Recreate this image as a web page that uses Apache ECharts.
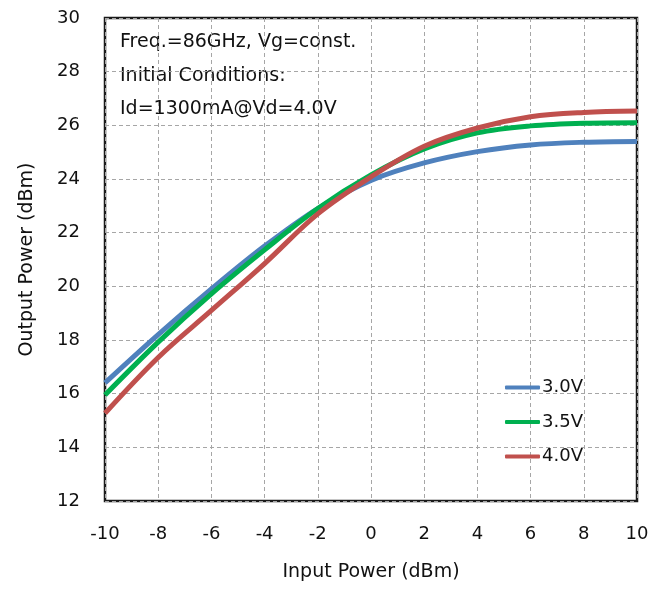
<!DOCTYPE html>
<html>
<head>
<meta charset="utf-8">
<script src="https://cdn.jsdelivr.net/npm/echarts@6/dist/echarts.min.js"></script>
<style>
    html, body { margin: 0; padding: 0; background: #fff; }
    #chart { width: 665px; height: 593px; }
</style>
</head>
<body>
<div id="chart"></div>
<script>
// input power (dBm)
const pin = [-10, -8, -6, -4, -2, 0, 2, 4, 6, 8, 10];
// output power (dBm) per drain voltage
const pout30 = [16.4, 18.2, 19.9, 21.5, 22.9, 23.95, 24.6, 25.02, 25.27, 25.37, 25.4];
const pout35 = [15.95, 17.92, 19.72, 21.36, 22.9, 24.15, 25.12, 25.72, 25.98, 26.08, 26.1];
const pout40 = [15.27, 17.35, 19.1, 20.85, 22.7, 24.08, 25.22, 25.9, 26.32, 26.48, 26.53];
const seriesNames = ['3.0V', '3.5V', '4.0V'];
const noteLines = ['Freq.=86GHz, Vg=const.', 'Initial Conditions:', 'Id=1300mA@Vd=4.0V'];

const colors = ['#4F81BD', '#00B050', '#C0504D'];
const font = 'DejaVu Sans';

const toPairs = (ys) => pin.map((x, i) => [x, ys[i]]);

const chart = echarts.init(document.getElementById('chart'));

const makeSeries = (name, ys, color) => ({
    name: name,
    type: 'line',
    data: toPairs(ys),
    smooth: 0.35,
    showSymbol: false,
    lineStyle: { color: color, width: 5 },
    itemStyle: { color: color },
    z: 3
});

const option = {
    animation: false,
    backgroundColor: '#fff',
    grid: {
        left: 105,
        right: 28,
        top: 18,
        bottom: 92,
        show: true,
        borderColor: '#1a1a1a',
        borderWidth: 2.5
    },
    xAxis: {
        type: 'value',
        min: -10,
        max: 10,
        interval: 2,
        name: 'Input Power (dBm)',
        nameLocation: 'middle',
        nameGap: 62,
        nameTextStyle: { fontFamily: font, fontSize: 19, color: '#111' },
        axisLine: { show: false },
        axisTick: { show: false },
        axisLabel: { fontFamily: font, fontSize: 18, color: '#111', margin: 24 },
        splitLine: { lineStyle: { color: '#a6a6a6', type: [4, 3], width: 1 } }
    },
    yAxis: {
        type: 'value',
        min: 12,
        max: 30,
        interval: 2,
        name: 'Output Power (dBm)',
        nameLocation: 'middle',
        nameGap: 68,
        nameTextStyle: { fontFamily: font, fontSize: 19, color: '#111' },
        axisLine: { show: false },
        axisTick: { show: false },
        axisLabel: { fontFamily: font, fontSize: 18, color: '#111', margin: 25 },
        splitLine: { lineStyle: { color: '#a6a6a6', type: [4, 3], width: 1 } }
    },
    legend: {
        orient: 'vertical',
        left: 505,
        top: 377,
        padding: 0,
        itemWidth: 35,
        itemHeight: 4,
        itemGap: 13.5,
        icon: 'roundRect',
        textStyle: { fontFamily: font, fontSize: 18, color: '#111', lineHeight: 21, padding: [0, 0, 0, -3] },
        data: seriesNames
    },
    graphic: noteLines.map((t, i) => ({
        type: 'text',
        left: 120,
        top: 33 + i * 33.5,
        style: { text: t, fontFamily: font, fontSize: 19, fill: '#111' }
    })),
    series: [
        makeSeries(seriesNames[0], pout30, colors[0]),
        makeSeries(seriesNames[1], pout35, colors[1]),
        makeSeries(seriesNames[2], pout40, colors[2])
    ]
};

chart.setOption(option);
</script>
</body>
</html>
